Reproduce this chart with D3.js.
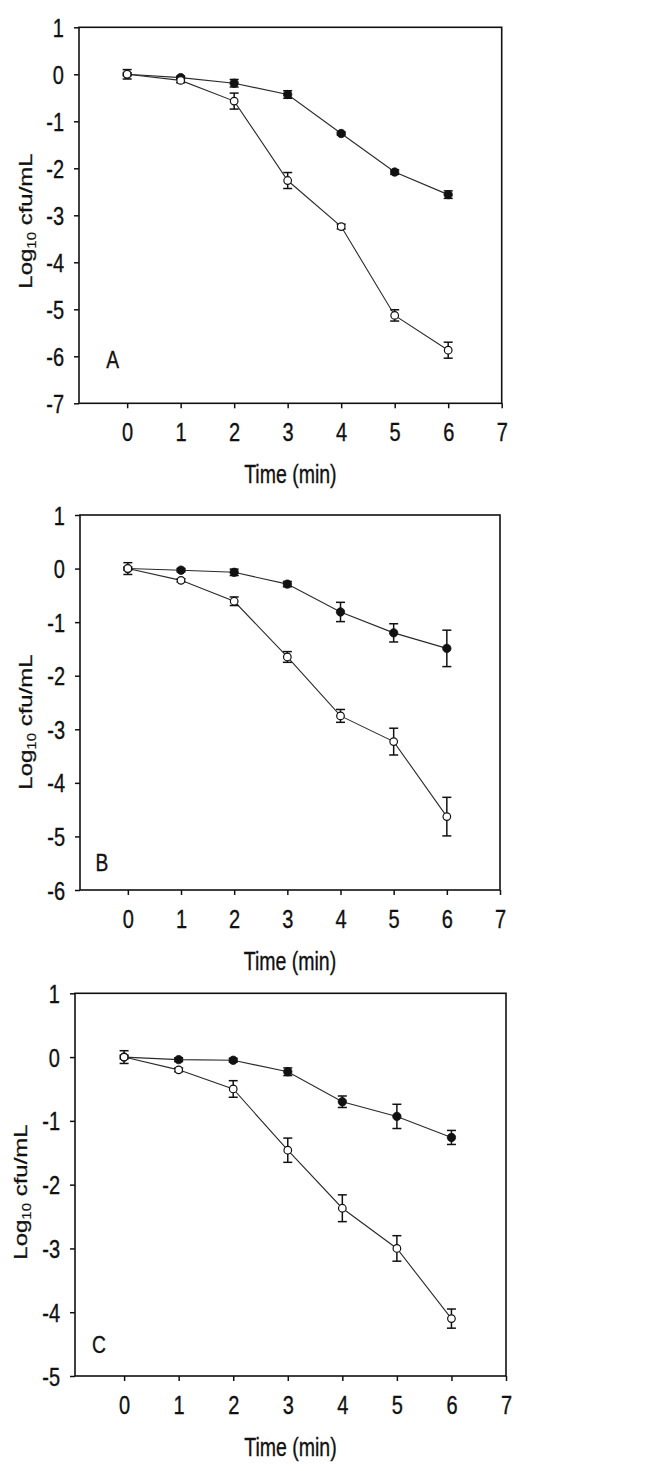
<!DOCTYPE html>
<html><head><meta charset="utf-8">
<script src="https://cdn.jsdelivr.net/npm/d3@7"></script>
<style>body{margin:0;background:#fff}svg{display:block}</style>
</head><body>
<svg id="c" width="645" height="1471"></svg>
<script>
// ---- data ----
const times = [0, 1, 2, 3, 4, 5, 6];
const xTicks = [0, 1, 2, 3, 4, 5, 6, 7];
const panelLabels = ["A", "B", "C"];

const aFilled    = [0, -0.07, -0.19, -0.43, -1.26, -2.08, -2.56];
const aFilledErr = [0.03, 0.03, 0.08, 0.08, 0.03, 0.05, 0.08];
const aOpen      = [0, -0.13, -0.57, -2.26, -3.24, -5.13, -5.87];
const aOpenErr   = [0.1, 0.05, 0.17, 0.17, 0.05, 0.12, 0.17];
const aYTicks    = [1, 0, -1, -2, -3, -4, -5, -6, -7];

const bFilled    = [0, -0.03, -0.07, -0.29, -0.81, -1.2, -1.49];
const bFilledErr = [0.03, 0.03, 0.06, 0.05, 0.18, 0.17, 0.34];
const bOpen      = [0, -0.22, -0.61, -1.65, -2.75, -3.23, -4.63];
const bOpenErr   = [0.11, 0.03, 0.08, 0.1, 0.12, 0.25, 0.36];
const bYTicks    = [1, 0, -1, -2, -3, -4, -5, -6];

const cFilled    = [0, -0.04, -0.05, -0.23, -0.7, -0.93, -1.26];
const cFilledErr = [0.03, 0.03, 0.03, 0.06, 0.09, 0.19, 0.11];
const cOpen      = [0, -0.2, -0.5, -1.46, -2.37, -3.0, -4.1];
const cOpenErr   = [0.1, 0.03, 0.13, 0.19, 0.21, 0.2, 0.15];
const cYTicks    = [1, 0, -1, -2, -3, -4, -5];

// ---- layout ----
const panels = [
  {label: panelLabels[0], filled: aFilled, filledErr: aFilledErr, open: aOpen, openErr: aOpenErr, yTicks: aYTicks,
   left: 79, right: 501.7, top: 27.3, bottom: 403.3, ylx: 23, yly: 221, lx: 112.7, ly: 368},
  {label: panelLabels[1], filled: bFilled, filledErr: bFilledErr, open: bOpen, openErr: bOpenErr, yTicks: bYTicks,
   left: 80, right: 500, top: 515, bottom: 890, ylx: 23, yly: 722, lx: 102, ly: 871},
  {label: panelLabels[2], filled: cFilled, filledErr: cFilledErr, open: cOpen, openErr: cOpenErr, yTicks: cYTicks,
   left: 75, right: 506, top: 993.3, bottom: 1376, ylx: 18, yly: 1192, lx: 99, ly: 1353}
];

const FONT = "'Liberation Sans', Arial, sans-serif";
const SX = 0.8;
const FS = 25;
const INK = "#111";
const svg = d3.select("#c");

const styleText = sel => sel.attr("font-family", FONT).attr("fill", INK)
  .attr("stroke", INK).attr("stroke-width", 0.35);

panels.forEach(p => {
  const x = d3.scaleLinear().domain([-0.9, 7]).range([p.left, p.right]);
  const y = d3.scaleLinear().domain([d3.min(p.yTicks), d3.max(p.yTicks)]).range([p.bottom, p.top]);
  const g = svg.append("g");

  // frame
  g.append("rect").attr("x", p.left).attr("y", p.top)
    .attr("width", p.right - p.left).attr("height", p.bottom - p.top)
    .attr("fill", "none").attr("stroke", INK).attr("stroke-width", 1.6);

  // y axis
  const ya = g.append("g").attr("transform", `translate(${p.left},0)`)
    .call(d3.axisLeft(y).tickValues(p.yTicks).tickSize(5).tickFormat(d => String(d)));
  ya.select(".domain").remove();
  ya.selectAll("line").attr("stroke", INK).attr("stroke-width", 1.5);
  ya.selectAll("text").attr("x", null).attr("dy", "0.36em")
    .attr("transform", `translate(-15,0) scale(${SX},1)`)
    .attr("font-size", FS).attr("text-anchor", "end").call(styleText);

  // x axis
  const xa = g.append("g").attr("transform", `translate(0,${p.bottom})`)
    .call(d3.axisBottom(x).tickValues(xTicks).tickSize(5).tickFormat(d => String(d)));
  xa.select(".domain").remove();
  xa.selectAll("line").attr("stroke", INK).attr("stroke-width", 1.5);
  xa.selectAll("text").attr("y", null).attr("dy", null)
    .attr("transform", `translate(0,38) scale(${SX},1)`)
    .attr("font-size", FS).attr("text-anchor", "middle").call(styleText);

  // x title
  g.append("text")
    .attr("transform", `translate(${(p.left + p.right) / 2},${p.bottom + 80}) scale(0.78,1)`)
    .attr("text-anchor", "middle").attr("font-size", FS).call(styleText)
    .text("Time (min)");

  // y title
  const yt = g.append("text")
    .attr("transform", `translate(${p.ylx + 9},${p.yly}) rotate(-90) scale(1,${SX})`)
    .attr("text-anchor", "middle").attr("font-size", 24).call(styleText);
  yt.append("tspan").text("Log");
  yt.append("tspan").attr("font-size", 15).attr("stroke-width", 0.2).attr("dy", 5).text("10");
  yt.append("tspan").attr("dy", -5).text(" cfu/mL");

  // panel letter
  g.append("text")
    .attr("transform", `translate(${p.lx},${p.ly}) scale(${SX},1)`)
    .attr("text-anchor", "middle").attr("font-size", 24).call(styleText)
    .text(p.label);

  const line = d3.line().x((d, i) => x(times[i])).y(d => y(d));
  [p.filled, p.open].forEach(s => {
    g.append("path").datum(s).attr("d", line)
      .attr("fill", "none").attr("stroke", "#2a2a2a").attr("stroke-width", 1.1);
  });

  const drawErr = (vals, errs) => {
    const eg = g.append("g").attr("stroke", INK).attr("stroke-width", 1.5);
    vals.forEach((v, i) => {
      const cx = x(times[i]);
      const y1 = y(v + errs[i]), y2 = y(v - errs[i]);
      eg.append("line").attr("x1", cx).attr("x2", cx).attr("y1", y1).attr("y2", y2);
      [y1, y2].forEach(yy => eg.append("line").attr("x1", cx - 4.5).attr("x2", cx + 4.5).attr("y1", yy).attr("y2", yy));
    });
  };
  drawErr(p.filled, p.filledErr);
  drawErr(p.open, p.openErr);

  g.append("g").selectAll("circle").data(p.filled).join("circle")
    .attr("cx", (d, i) => x(times[i])).attr("cy", d => y(d)).attr("r", 4.2)
    .attr("fill", INK).attr("stroke", INK).attr("stroke-width", 0.8);
  g.append("g").selectAll("circle").data(p.open).join("circle")
    .attr("cx", (d, i) => x(times[i])).attr("cy", d => y(d)).attr("r", 3.8)
    .attr("fill", "#fff").attr("stroke", INK).attr("stroke-width", 1.2);
});
</script>
</body></html>
